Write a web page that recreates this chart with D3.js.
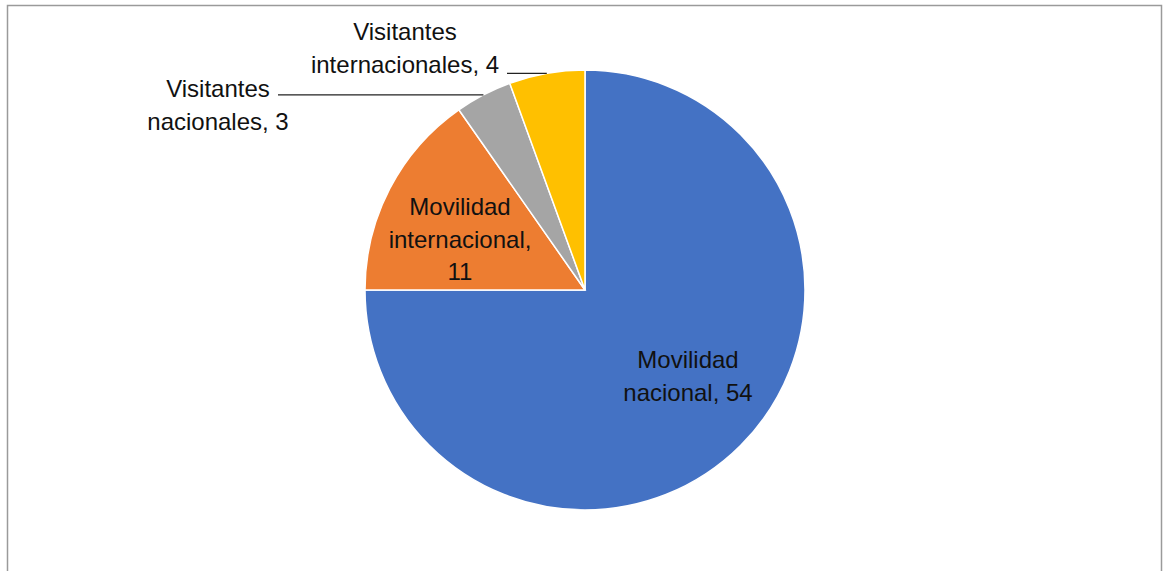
<!DOCTYPE html>
<html>
<head>
<meta charset="utf-8">
<script src="https://cdn.jsdelivr.net/npm/d3@7"></script>
<style>
  body { margin: 0; background: #fff; }
  svg { display: block; }
  .lbl { font-family: "Liberation Sans", Arial, sans-serif; font-size: 24px; fill: #111; }
</style>
</head>
<body>
<script>
// data
const categories = ["Movilidad nacional", "Movilidad internacional", "Visitantes nacionales", "Visitantes internacionales"];
const values = [54, 11, 3, 4];
const colors = ["#4472C4", "#ED7D31", "#A5A5A5", "#FFC000"];

const W = 1163, H = 571;
const cx = 585, cy = 290, r = 220;

const svg = d3.select("body").append("svg")
  .attr("width", W)
  .attr("height", H);

// chart frame (bottom runs off the picture)
svg.append("rect")
  .attr("x", 7.5).attr("y", 5.5)
  .attr("width", 1154).attr("height", 600)
  .attr("fill", "none")
  .attr("stroke", "#9a9a9a")
  .attr("stroke-width", 1.5);

const data = categories.map((c, i) => ({ name: c, value: values[i], color: colors[i] }));

const pie = d3.pie().sort(null).value(d => d.value);
const arcs = pie(data);
const arc = d3.arc().innerRadius(0).outerRadius(r);

const g = svg.append("g").attr("transform", `translate(${cx},${cy})`);

g.selectAll("path")
  .data(arcs)
  .enter()
  .append("path")
  .attr("d", arc)
  .attr("fill", d => d.data.color)
  .attr("stroke", "#fff")
  .attr("stroke-width", 1.5);

// point on the rim at the middle of a slice
let rimPoint = function (a) {
  let m = (a.startAngle + a.endAngle) / 2;
  return [Math.sin(m) * r, -Math.cos(m) * r];
};

// labels: inside ones placed relative to the centroid, outside ones with a leader line
const inner = [
  { i: 0, dx: 103, dy: 78, lines: ["Movilidad", "nacional, " + values[0]] },
  { i: 1, dx: -125, dy: -75, lines: ["Movilidad", "internacional,", String(values[1])] }
];
inner.forEach(function (l) {
  let t = g.append("text").attr("class", "lbl").attr("text-anchor", "middle");
  l.lines.forEach(function (s, k) {
    t.append("tspan").attr("x", l.dx).attr("y", l.dy + k * 32.5).text(s);
  });
});

const outer = [
  { i: 2, tx: 218, ty: 97, lineX0: 278, lines: ["Visitantes", "nacionales, " + values[2]] },
  { i: 3, tx: 405, ty: 40, lineX0: 507, lines: ["Visitantes", "internacionales, " + values[3]] }
];
outer.forEach(function (l) {
  let p = rimPoint(arcs[l.i]);
  let t = svg.append("text").attr("class", "lbl").attr("text-anchor", "middle");
  l.lines.forEach(function (s, k) {
    t.append("tspan").attr("x", l.tx).attr("y", l.ty + k * 33).text(s);
  });
  let ly = cy + p[1];
  svg.append("line")
    .attr("x1", l.lineX0).attr("y1", ly)
    .attr("x2", cx + p[0]).attr("y2", ly)
    .attr("stroke", "#222")
    .attr("stroke-width", 1.2);
});
</script>
</body>
</html>
